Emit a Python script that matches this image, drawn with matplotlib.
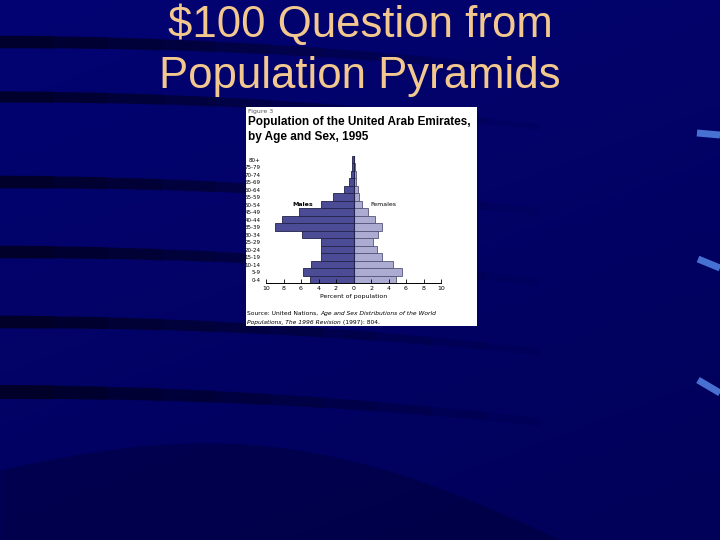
import numpy as np
import matplotlib.pyplot as plt
from matplotlib.patches import Rectangle

# Population pyramid data, UAE 1995 (percent of population)
age_groups = ['0-4', '5-9', '10-14', '15-19', '20-24', '25-29', '30-34', '35-39',
              '40-44', '45-49', '50-54', '55-59', '60-64', '65-69', '70-74', '75-79', '80+']
males = [5.0, 5.8, 4.85, 3.7, 3.7, 3.7, 5.85, 9.0, 8.2, 6.2, 3.7, 2.3, 1.1, 0.5, 0.3, 0.15, 0.15]
females = [4.9, 5.5, 4.5, 3.3, 2.7, 2.2, 2.75, 3.3, 2.4, 1.65, 1.0, 0.65, 0.5, 0.3, 0.25, 0.15, 0.1]
xticks = [-10, -8, -6, -4, -2, 0, 2, 4, 6, 8, 10]

W, H = 720, 540
fig = plt.figure(figsize=(7.2, 5.4), dpi=100)

# slide background
bg = fig.add_axes([0, 0, 1, 1])
yy, xx = np.mgrid[0:1:200j, 0:1:200j]
grad = 0.55 - 0.2 * yy - 0.1 * xx
img = np.zeros((200, 200, 3))
img[..., 0] = 0.02 * grad
img[..., 1] = 0.02 * grad
img[..., 2] = 0.26 + 0.35 * grad
bg.imshow(img, extent=[0, W, H, 0], aspect='auto')
# dark curved streaks on the left, fading to the right
for y0, lw in [(42, 9), (97, 8), (182, 9), (252, 9), (322, 9), (392, 10)]:
    for k in range(10):
        t = np.linspace(k / 10, (k + 1) / 10, 10)
        bg.plot(t * 540, y0 + 30 * t ** 2, color='black', lw=lw * (1 - 0.05 * k),
                alpha=0.6 * (1 - k / 10), solid_capstyle='butt')
xs = np.linspace(0, 560, 100)
bg.fill_between(xs, 470 + 70 * (xs / 560) ** 2 - 40 * np.sin(np.pi * xs / 560), H,
                color='black', alpha=0.2, lw=0)
# light blue streaks on right edge
for (x0, y0), (x1, y1) in [((697, 133), (720, 135)), ((698, 259), (720, 268)),
                           ((698, 380), (720, 393))]:
    bg.plot([x0, x1], [y0, y1], color='#4f7de0', lw=5, alpha=0.9, solid_capstyle='butt')
bg.set_xlim(0, W)
bg.set_ylim(H, 0)
bg.axis('off')

title_col = '#f3c88e'
fig.text(360 / W, 1 - 37 / H, r'\$100 Question from', ha='center', va='baseline',
         fontsize=31.5, color=title_col, family='Liberation Sans')
fig.text(360 / W, 1 - 88 / H, 'Population Pyramids', ha='center', va='baseline',
         fontsize=31.5, color=title_col, family='Liberation Sans')

# white figure panel
bg.add_patch(Rectangle((246, 107), 231, 219, facecolor='white', edgecolor='none', zorder=10))
fig.text(248 / W, 1 - 112 / H, 'Figure 3', fontsize=4.5, color='#555555', va='center')
fig.text(248 / W, 1 - 122 / H, 'Population of the United Arab Emirates,', fontsize=8.5,
         weight='bold', va='center', family='Liberation Sans')
fig.text(248 / W, 1 - 137 / H, 'by Age and Sex, 1995', fontsize=8.5,
         weight='bold', va='center', family='Liberation Sans')

ax = fig.add_axes([266 / W, 1 - 283.3 / H, 175 / W, 127.3 / H])
pos = np.arange(len(age_groups))
ax.barh(pos, [-m for m in males], height=1, color='#4c4c96', edgecolor='#22224a', lw=0.6)
ax.barh(pos, females, height=1, color='#acacd2', edgecolor='#55557a', lw=0.6)
ax.axvline(0, color='#22224a', lw=0.8)
ax.set_xlim(-10, 10)
ax.set_ylim(-0.5, len(age_groups) - 0.5)
ax.set_xticks(xticks)
ax.set_xticklabels([str(abs(v)) for v in xticks], fontsize=4.5)
ax.tick_params(axis='x', direction='in', length=3, width=0.6, pad=2)
ax.set_yticks(pos)
ax.set_yticklabels(age_groups, fontsize=4)
ax.tick_params(axis='y', length=0, pad=4)
for s in ['top', 'right', 'left']:
    ax.spines[s].set_visible(False)
ax.spines['bottom'].set_linewidth(0.7)
ax.set_xlabel('Percent of population', fontsize=4.5, labelpad=2)
ax.text(-5.8, 10, 'Males', fontsize=4.5, weight='bold', ha='center', va='center')
ax.text(3.4, 10, 'Females', fontsize=4.5, ha='center', va='center')

# source note, italic parts chained after the regular parts
src_fs = 4.35
t1 = fig.text(247 / W, 1 - 315 / H, 'Source: United Nations, ', fontsize=src_fs, va='baseline')
bg.annotate('Age and Sex Distributions of the World', xy=(1, 0), xycoords=t1,
            fontsize=src_fs, style='italic', va='bottom', ha='left', zorder=11)
t2 = fig.text(247 / W, 1 - 324 / H, 'Populations, The 1996 Revision', fontsize=src_fs,
              style='italic', va='baseline')
bg.annotate(' (1997): 804.', xy=(1, 0), xycoords=t2,
            fontsize=src_fs, va='bottom', ha='left', zorder=11)

fig.savefig('out.png', dpi=100)
